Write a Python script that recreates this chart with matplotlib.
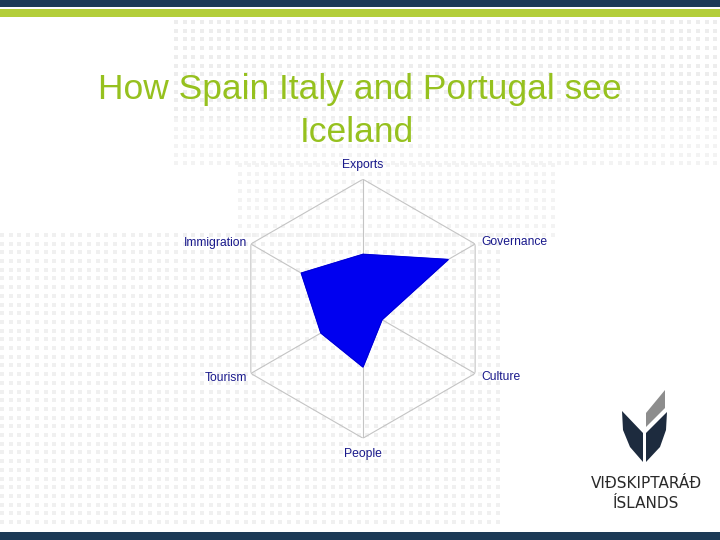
import numpy as np
import matplotlib
matplotlib.use('Agg')
import matplotlib.pyplot as plt
from matplotlib.patches import Rectangle, Polygon

# radar data (0-10 scale)
categories = ['Exports', 'Governance', 'Culture', 'People', 'Tourism', 'Immigration']
values = [4.2, 7.6, 1.7, 4.5, 3.75, 5.5]
rmax = 10

title_lines = ['How Spain Italy and Portugal see', 'Iceland']
logo_lines = ['VIÐSKIPTARÁÐ', 'ÍSLANDS']

navy = '#1c3a56'
green = '#b3ce3a'
title_col = '#96c11f'
label_col = '#1a1a8c'

plt.rcParams['font.family'] = ['Liberation Sans', 'DejaVu Sans']

fig = plt.figure(figsize=(7.2, 5.4), dpi=100)
fig.patch.set_facecolor('white')

# background: bars, dotted pattern, logo (pixel coordinates)
bg = fig.add_axes([0, 0, 1, 1])
bg.set_xlim(0, 720)
bg.set_ylim(540, 0)
bg.axis('off')

def dots(x0, x1, y0, y1, col):
    xs = np.arange(x0, x1, 8.7)
    ys = np.arange(y0, y1, 8.7)
    X, Y = np.meshgrid(xs, ys)
    bg.scatter(X.ravel(), Y.ravel(), s=8, marker='s', color=col, lw=0)

dots(176, 720, 22, 120, '#ededed')
dots(176, 720, 120, 165, '#f3f3f3')
dots(240, 560, 165, 235, '#f3f3f3')
dots(2, 505, 235, 530, '#f0f0f0')

bg.add_patch(Rectangle((0, 0), 720, 7, color=navy, lw=0))
bg.add_patch(Rectangle((0, 9), 720, 8, color=green, lw=0))
bg.add_patch(Rectangle((0, 532), 720, 8, color=navy, lw=0))

logo_navy = '#1d2b3e'
bg.add_patch(Polygon([(622, 411), (623, 430), (630, 447), (643, 462), (643, 433)],
                     closed=True, color=logo_navy, lw=0))
bg.add_patch(Polygon([(667, 412), (666, 430), (660, 447), (646, 462), (646, 433)],
                     closed=True, color=logo_navy, lw=0))
bg.add_patch(Polygon([(646, 413), (665, 390), (665, 408), (646, 427)],
                     closed=True, color='#8d8d8d', lw=0))
bg.text(646, 483, logo_lines[0], ha='center', va='center', fontsize=11,
        color='#2a2a2a', family='DejaVu Sans')
bg.text(646, 504, logo_lines[1], ha='center', va='center', fontsize=11,
        color='#2a2a2a', family='DejaVu Sans')

# title
fig.text(0.5, 1 - 99 / 540, title_lines[0], ha='center', va='baseline',
         fontsize=25.5, color=title_col)
fig.text(0.496, 1 - 142 / 540, title_lines[1], ha='center', va='baseline',
         fontsize=25.5, color=title_col)

# radar chart
ax = fig.add_axes([0.3243, 0.1885, 0.3597, 0.4796], projection='polar')
ax.set_theta_zero_location('N')
ax.set_theta_direction(-1)
ax.set_ylim(0, rmax)
ax.grid(False)
ax.spines['polar'].set_visible(False)
ax.set_xticks([])
ax.set_yticks([])
ax.patch.set_alpha(0)

angles = np.linspace(0, 2 * np.pi, len(categories), endpoint=False)
ang_c = np.append(angles, angles[0])

ax.plot(ang_c, [rmax] * len(ang_c), color='#c4c4c4', lw=0.8)
for a in angles:
    ax.plot([a, a], [0, rmax], color='#c4c4c4', lw=0.8)

vals_c = values + values[:1]
ax.fill(ang_c, vals_c, color='#0000f0', zorder=3)
ax.plot(ang_c, vals_c, color='#0000d0', lw=0.6, zorder=3)

offsets = {
    'Exports': ((0, 10), 'center'),
    'Governance': ((4.3, 1.5), 'left'),
    'Culture': ((4.3, -2.5), 'left'),
    'People': ((0, -11.5), 'center'),
    'Tourism': ((-3, -3), 'right'),
    'Immigration': ((-3, 1), 'right'),
}
for a, c in zip(angles, categories):
    off, ha = offsets[c]
    ax.annotate(c, xy=(a, rmax), xytext=off, textcoords='offset points',
                ha=ha, va='center', fontsize=8.7, color=label_col)

fig.savefig('out.png', dpi=100)
